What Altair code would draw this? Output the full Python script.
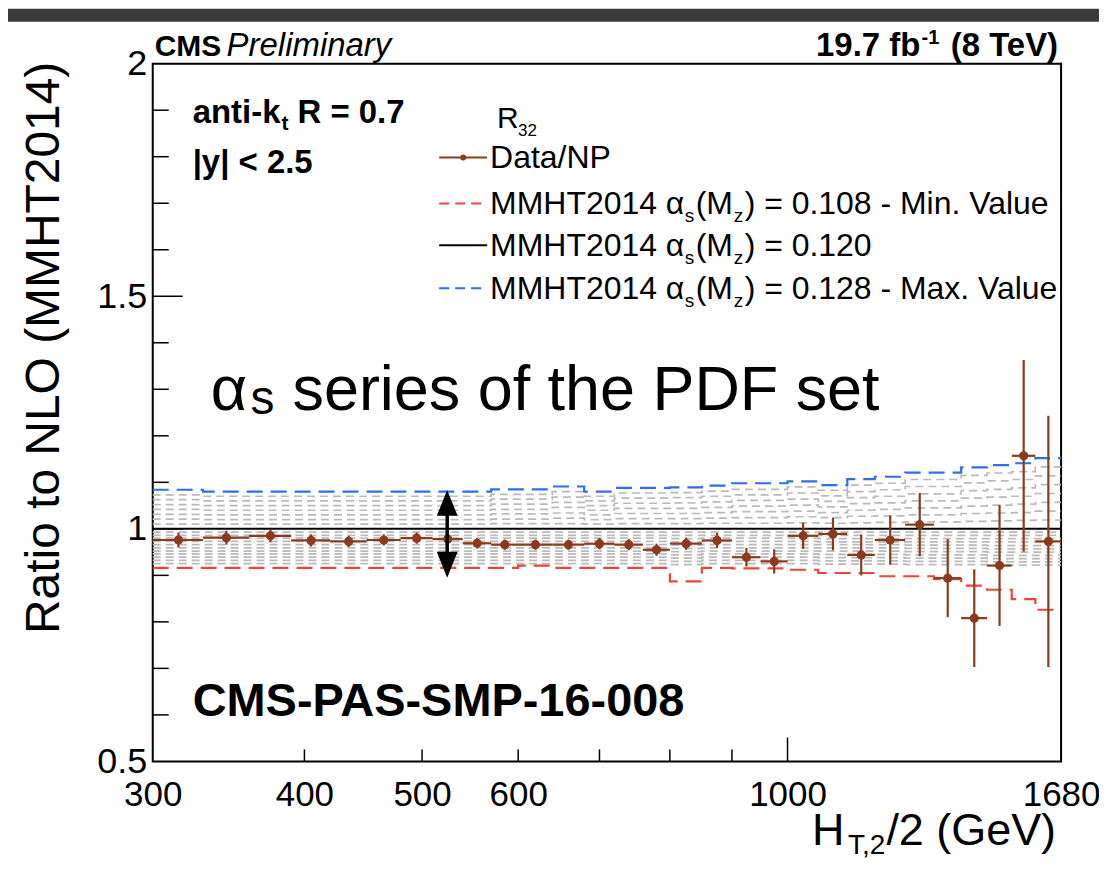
import altair as alt
import pandas as pd

# ---------------- data ----------------
bin_lo = [300, 330, 360, 390, 420, 450, 480, 510, 540, 570, 600, 640, 680, 720, 760,
          800, 850, 900, 950, 1000, 1060, 1120, 1180, 1250, 1320, 1390, 1460, 1530, 1600]
bin_hi = [330, 360, 390, 420, 450, 480, 510, 540, 570, 600, 640, 680, 720, 760, 800,
          850, 900, 950, 1000, 1060, 1120, 1180, 1250, 1320, 1390, 1460, 1530, 1600, 1680]
bin_center = [315, 345, 375, 405, 435, 465, 495, 525, 555, 585, 620, 660, 700, 740, 780,
              825, 875, 925, 975, 1030, 1090, 1150, 1215, 1285, 1355, 1425, 1495, 1565, 1640]

data_ratio = [0.976, 0.981, 0.985, 0.975, 0.973, 0.976, 0.980, 0.978, 0.969, 0.966,
              0.966, 0.966, 0.968, 0.966, 0.955, 0.968, 0.975, 0.939, 0.930, 0.985,
              0.989, 0.944, 0.976, 1.009, 0.894, 0.808, 0.921, 1.157, 0.973]
data_err = [0.016, 0.015, 0.014, 0.013, 0.012, 0.012, 0.012, 0.011, 0.011, 0.011,
            0.011, 0.011, 0.012, 0.012, 0.013, 0.013, 0.016, 0.020, 0.026, 0.028,
            0.035, 0.044, 0.053, 0.068, 0.084, 0.105, 0.130, 0.206, 0.270]

nominal_ratio = 1.0   # alpha_s = 0.120 (reference of the ratio)

min_0108 = [0.916, 0.916, 0.916, 0.916, 0.916, 0.916, 0.916, 0.916, 0.916, 0.916,
            0.921, 0.916, 0.916, 0.916, 0.916, 0.887, 0.916, 0.915, 0.915, 0.912,
            0.905, 0.905, 0.898, 0.898, 0.892, 0.878, 0.869, 0.849, 0.826]
max_0128 = [1.084, 1.080, 1.080, 1.080, 1.080, 1.080, 1.080, 1.080, 1.080, 1.085,
            1.085, 1.091, 1.080, 1.088, 1.088, 1.089, 1.093, 1.098, 1.098, 1.102,
            1.094, 1.107, 1.112, 1.121, 1.121, 1.132, 1.137, 1.141, 1.152]

# intermediate alpha_s members of the PDF series (grey dashed)
g109 = [0.925, 0.925, 0.925, 0.925, 0.925, 0.925, 0.925, 0.925, 0.925, 0.925, 0.925, 0.925, 0.925, 0.925, 0.925,
        0.923, 0.925, 0.925, 0.925, 0.925, 0.924, 0.924, 0.924, 0.923, 0.923, 0.923, 0.922, 0.922, 0.922]
g110 = [0.932, 0.932, 0.932, 0.932, 0.932, 0.932, 0.932, 0.932, 0.932, 0.932, 0.932, 0.932, 0.932, 0.932, 0.932,
        0.930, 0.932, 0.932, 0.932, 0.932, 0.931, 0.931, 0.931, 0.930, 0.930, 0.930, 0.929, 0.929, 0.929]
g111 = [0.939, 0.939, 0.939, 0.939, 0.939, 0.939, 0.939, 0.939, 0.939, 0.939, 0.939, 0.939, 0.939, 0.939, 0.939,
        0.937, 0.939, 0.939, 0.939, 0.939, 0.938, 0.938, 0.938, 0.937, 0.937, 0.937, 0.936, 0.936, 0.936]
g112 = [0.946, 0.946, 0.946, 0.946, 0.946, 0.946, 0.946, 0.946, 0.946, 0.946, 0.946, 0.946, 0.946, 0.946, 0.946,
        0.944, 0.946, 0.946, 0.946, 0.946, 0.945, 0.945, 0.945, 0.944, 0.944, 0.944, 0.943, 0.943, 0.943]
g113 = [0.952, 0.952, 0.952, 0.952, 0.952, 0.952, 0.952, 0.952, 0.952, 0.952, 0.952, 0.952, 0.952, 0.952, 0.952,
        0.951, 0.952, 0.952, 0.952, 0.952, 0.952, 0.952, 0.952, 0.951, 0.951, 0.951, 0.950, 0.950, 0.950]
g114 = [0.959, 0.959, 0.959, 0.959, 0.959, 0.959, 0.959, 0.959, 0.959, 0.959, 0.959, 0.959, 0.959, 0.959, 0.959,
        0.958, 0.959, 0.959, 0.959, 0.959, 0.959, 0.959, 0.959, 0.958, 0.958, 0.958, 0.957, 0.957, 0.957]
g115 = [0.966, 0.966, 0.966, 0.966, 0.966, 0.966, 0.966, 0.966, 0.966, 0.966, 0.966, 0.966, 0.966, 0.966, 0.966,
        0.965, 0.966, 0.966, 0.966, 0.966, 0.966, 0.966, 0.966, 0.965, 0.965, 0.965, 0.964, 0.964, 0.964]
g116 = [0.973, 0.973, 0.973, 0.973, 0.973, 0.973, 0.973, 0.973, 0.973, 0.973, 0.973, 0.973, 0.973, 0.973, 0.973,
        0.972, 0.973, 0.973, 0.973, 0.973, 0.972, 0.972, 0.972, 0.972, 0.972, 0.972, 0.972, 0.972, 0.972]
g117 = [0.980, 0.980, 0.980, 0.980, 0.980, 0.980, 0.980, 0.980, 0.980, 0.980, 0.980, 0.980, 0.980, 0.980, 0.980,
        0.979, 0.980, 0.980, 0.980, 0.980, 0.979, 0.979, 0.979, 0.979, 0.979, 0.979, 0.979, 0.979, 0.979]
g118 = [0.986, 0.986, 0.986, 0.986, 0.986, 0.986, 0.986, 0.986, 0.986, 0.986, 0.986, 0.986, 0.986, 0.986, 0.986,
        0.986, 0.986, 0.986, 0.986, 0.986, 0.986, 0.986, 0.986, 0.986, 0.986, 0.986, 0.986, 0.986, 0.986]
g119 = [0.993, 0.993, 0.993, 0.993, 0.993, 0.993, 0.993, 0.993, 0.993, 0.993, 0.993, 0.993, 0.993, 0.993, 0.993,
        0.993, 0.993, 0.993, 0.993, 0.993, 0.993, 0.993, 0.993, 0.993, 0.993, 0.993, 0.993, 0.993, 0.993]
g121 = [1.010, 1.010, 1.010, 1.010, 1.010, 1.010, 1.010, 1.010, 1.010, 1.011, 1.011, 1.011, 1.010, 1.011, 1.011,
        1.011, 1.012, 1.012, 1.012, 1.013, 1.012, 1.013, 1.014, 1.015, 1.015, 1.016, 1.017, 1.018, 1.019]
g122 = [1.021, 1.020, 1.020, 1.020, 1.020, 1.020, 1.020, 1.020, 1.020, 1.021, 1.021, 1.023, 1.020, 1.022, 1.022,
        1.022, 1.023, 1.024, 1.024, 1.026, 1.024, 1.027, 1.028, 1.030, 1.030, 1.033, 1.034, 1.035, 1.038]
g123 = [1.031, 1.030, 1.030, 1.030, 1.030, 1.030, 1.030, 1.030, 1.030, 1.032, 1.032, 1.034, 1.030, 1.033, 1.033,
        1.033, 1.035, 1.037, 1.037, 1.038, 1.035, 1.040, 1.042, 1.045, 1.045, 1.049, 1.051, 1.053, 1.057]
g124 = [1.042, 1.040, 1.040, 1.040, 1.040, 1.040, 1.040, 1.040, 1.040, 1.042, 1.042, 1.046, 1.040, 1.044, 1.044,
        1.044, 1.046, 1.049, 1.049, 1.051, 1.047, 1.054, 1.056, 1.060, 1.060, 1.066, 1.068, 1.070, 1.076]
g125 = [1.052, 1.050, 1.050, 1.050, 1.050, 1.050, 1.050, 1.050, 1.050, 1.053, 1.053, 1.057, 1.050, 1.055, 1.055,
        1.056, 1.058, 1.061, 1.061, 1.064, 1.059, 1.067, 1.070, 1.075, 1.075, 1.082, 1.085, 1.088, 1.095]
g126 = [1.063, 1.060, 1.060, 1.060, 1.060, 1.060, 1.060, 1.060, 1.060, 1.064, 1.064, 1.068, 1.060, 1.066, 1.066,
        1.067, 1.070, 1.073, 1.073, 1.077, 1.071, 1.080, 1.084, 1.091, 1.091, 1.099, 1.103, 1.106, 1.114]
g127 = [1.073, 1.070, 1.070, 1.070, 1.070, 1.070, 1.070, 1.070, 1.070, 1.074, 1.074, 1.080, 1.070, 1.077, 1.077,
        1.078, 1.081, 1.085, 1.085, 1.090, 1.083, 1.094, 1.098, 1.106, 1.106, 1.115, 1.120, 1.123, 1.133]
grey_alphas = ["0.109", "0.110", "0.111", "0.112", "0.113", "0.114", "0.115", "0.116", "0.117",
               "0.118", "0.119", "0.121", "0.122", "0.123", "0.124", "0.125", "0.126", "0.127"]
grey_series = [g109, g110, g111, g112, g113, g114, g115, g116, g117,
               g118, g119, g121, g122, g123, g124, g125, g126, g127]

x_tick_labels = [300, 400, 500, 600, 1000, 1680]
x_minor_ticks = [400, 500, 600, 700, 800, 900]
x_major_ticks = [1000]
y_tick_labels = [0.5, 1.0, 1.5, 2.0]
y_minor_ticks = [0.6, 0.7, 0.8, 0.9, 1.1, 1.2, 1.3, 1.4, 1.6, 1.7, 1.8, 1.9]
y_major_ticks = [1.0, 1.5]

# ---------------- styling ----------------
FONT = "Liberation Sans, Arial, Helvetica, sans-serif"
BROWN = "#8b3a1c"
RED = "#f0443a"
BLUE = "#2f6df2"
GREY = "#bababa"
W, H = 910, 699

x_scale = alt.Scale(type="log", domain=[300, 1680], nice=False)
y_scale = alt.Scale(domain=[0.5, 2.0], nice=False, zero=False)
x_axis = alt.Axis(values=x_tick_labels, format="~g", ticks=False, domain=False, grid=False,
                  labelFontSize=35, labelPadding=16, labelFlush=False, labelOverlap=False)
y_axis = alt.Axis(values=y_tick_labels, format="~g", ticks=False, domain=False, grid=False,
                  labelFontSize=36, labelPadding=6, labelFlush=False, labelOverlap=False)


def X(f):
    return alt.X(f, type="quantitative", scale=x_scale, axis=x_axis, title=None)


def Y(f):
    return alt.Y(f, type="quantitative", scale=y_scale, axis=y_axis, title=None)


def step_rows(name, vals):
    rows = [{"series": name, "x": lo, "y": v} for lo, v in zip(bin_lo, vals)]
    rows.append({"series": name, "x": bin_hi[-1], "y": vals[-1]})
    return rows


grey_rows = []
for a, vals in zip(grey_alphas, grey_series):
    grey_rows += step_rows(a, vals)
df_grey = pd.DataFrame(grey_rows)
df_min = pd.DataFrame(step_rows("0.108", min_0108))
df_max = pd.DataFrame(step_rows("0.128", max_0128))
df_nom = pd.DataFrame({"y": [nominal_ratio]})

df_data = pd.DataFrame({
    "lo": bin_lo, "hi": bin_hi, "c": bin_center, "v": data_ratio,
    "vlo": [v - e for v, e in zip(data_ratio, data_err)],
    "vhi": [v + e for v, e in zip(data_ratio, data_err)],
})

one = pd.DataFrame({"k": [0]})

layers = []

# dark slide band at the top
layers.append(alt.Chart(one).mark_rect(color="#3b3b3b").encode(
    x=alt.value(-145), x2=alt.value(W + 38), y=alt.value(-55), y2=alt.value(-42)))

# grey alpha_s series
layers.append(alt.Chart(df_grey).mark_line(interpolate="step-after", strokeDash=[8, 5],
                                           strokeWidth=1.7, color=GREY).encode(
    x=X("x"), y=Y("y"), detail="series:N"))
# min / max
layers.append(alt.Chart(df_min).mark_line(interpolate="step-after", strokeDash=[16, 8],
                                          strokeWidth=2.2, color=RED).encode(x=X("x"), y=Y("y")))
layers.append(alt.Chart(df_max).mark_line(interpolate="step-after", strokeDash=[16, 8],
                                          strokeWidth=2.2, color=BLUE).encode(x=X("x"), y=Y("y")))
# nominal
layers.append(alt.Chart(df_nom).mark_rule(color="black", strokeWidth=2).encode(y=Y("y")))

# data
layers.append(alt.Chart(df_data).mark_rule(color=BROWN, strokeWidth=2.2).encode(
    x=X("lo"), x2="hi", y=Y("v")))
layers.append(alt.Chart(df_data).mark_rule(color=BROWN, strokeWidth=2.2).encode(
    x=X("c"), y=Y("vlo"), y2="vhi"))
layers.append(alt.Chart(df_data).mark_circle(color=BROWN, size=85, opacity=1).encode(
    x=X("c"), y=Y("v")))

# inward ticks
layers.append(alt.Chart(pd.DataFrame({"x": x_minor_ticks})).mark_rule(color="black", strokeWidth=1.5).encode(
    x=X("x"), y=alt.value(H), y2=alt.value(H - 12)))
layers.append(alt.Chart(pd.DataFrame({"x": x_major_ticks})).mark_rule(color="black", strokeWidth=1.5).encode(
    x=X("x"), y=alt.value(H), y2=alt.value(H - 24)))
layers.append(alt.Chart(pd.DataFrame({"y": y_minor_ticks})).mark_rule(color="black", strokeWidth=1.5).encode(
    y=Y("y"), x=alt.value(0), x2=alt.value(16)))
layers.append(alt.Chart(pd.DataFrame({"y": y_major_ticks})).mark_rule(color="black", strokeWidth=1.5).encode(
    y=Y("y"), x=alt.value(0), x2=alt.value(30)))


def txt(s, x, y, size, weight="normal", style="normal", align="left", angle=0, baseline="alphabetic"):
    return alt.Chart(one).mark_text(text=s, fontSize=size, fontWeight=weight, fontStyle=style,
                                    align=align, baseline=baseline, angle=angle, font=FONT,
                                    color="black").encode(x=alt.value(x), y=alt.value(y))


# header
layers.append(txt("CMS", 2, -8, 30, weight="bold"))
layers.append(txt("Preliminary", 74, -8, 33, style="italic"))
layers.append(txt("(8 TeV)", 907, -8, 33, weight="bold", align="right"))
layers.append(txt("-1", 788, -20, 20, weight="bold", align="right"))
layers.append(txt("19.7 fb", 769, -8, 33, weight="bold", align="right"))

# axis titles
layers.append(txt("Ratio to NLO (MMHT2014)", -108, -2, 48, align="right", angle=270, baseline="middle"))
layers.append(txt("/2 (GeV)", 905, 783, 45, align="right"))
layers.append(txt("T,2", 734, 792, 28, align="right"))
layers.append(txt("H", 693, 783, 45, align="right"))

# in-plot labels
layers.append(txt("anti-k", 40, 59, 33, weight="bold"))
layers.append(txt("t", 129, 66, 21, weight="bold"))
layers.append(txt("R = 0.7", 145, 59, 33, weight="bold"))
layers.append(txt("|y| < 2.5", 40, 110, 33, weight="bold"))
layers.append(txt("CMS-PAS-SMP-16-008", 40, 654, 47, weight="bold"))
layers.append(txt("α", 58, 347, 63))
layers.append(txt("s", 98, 351, 48))
layers.append(txt("series of the PDF set", 140, 347, 63))

# legend
layers.append(txt("R", 345, 64, 30))
layers.append(txt("32", 366, 72, 17))
layers.append(alt.Chart(one).mark_rule(color=BROWN, strokeWidth=2).encode(
    x=alt.value(287), x2=alt.value(335), y=alt.value(94)))
layers.append(alt.Chart(one).mark_circle(color=BROWN, size=35, opacity=1).encode(
    x=alt.value(311), y=alt.value(94)))
layers.append(txt("Data/NP", 338, 105, 32))
legend_entries = [(140, RED, [10, 6], ") = 0.108 - Min. Value"),
                  (182, "black", [1, 0], ") = 0.120"),
                  (225, BLUE, [10, 6], ") = 0.128 - Max. Value")]
for yc, col, dash, tail in legend_entries:
    layers.append(alt.Chart(one).mark_rule(color=col, strokeWidth=2, strokeDash=dash).encode(
        x=alt.value(287), x2=alt.value(335), y=alt.value(yc)))
    layers.append(txt("MMHT2014 α", 338, yc + 11, 32))
    layers.append(txt("s", 533, yc + 19, 19))
    layers.append(txt("(M", 544, yc + 11, 32))
    layers.append(txt("z", 582, yc + 19, 19))
    layers.append(txt(tail, 593, yc + 11, 32))

# double arrow annotation
layers.append(alt.Chart(one).mark_rule(color="black", strokeWidth=3.5).encode(
    x=alt.value(295), y=alt.value(445), y2=alt.value(497)))
layers.append(alt.Chart(one).mark_point(shape="M0,-1L0.8,1L-0.8,1Z", filled=True, size=676,
                                        color="black", opacity=1).encode(x=alt.value(295), y=alt.value(440)))
layers.append(alt.Chart(one).mark_point(shape="M0,1L0.8,-1L-0.8,-1Z", filled=True, size=676,
                                        color="black", opacity=1).encode(x=alt.value(295), y=alt.value(502)))

chart = alt.layer(*layers).properties(
    width=W, height=H,
    autosize=alt.AutoSizeParams(type="none"),
    padding={"left": 145, "top": 55, "right": 38, "bottom": 104},
).configure_view(stroke="black", strokeWidth=2).configure_axis(
    labelFont=FONT, labelColor="black")

chart.save("out.html", embed_options={"renderer": "svg", "actions": False})
